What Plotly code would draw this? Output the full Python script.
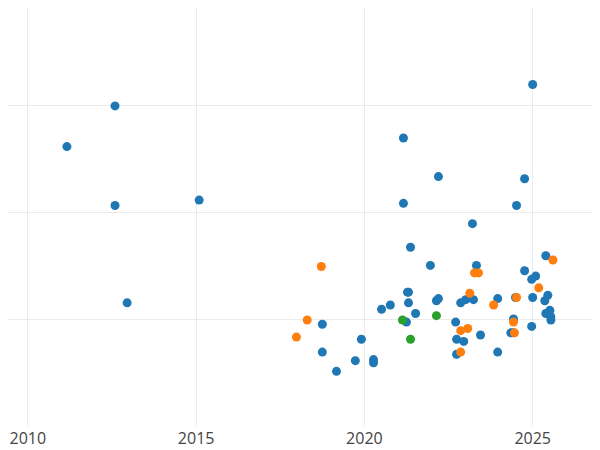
import plotly.graph_objects as go

blue_x = [2011.16, 2012.59, 2012.59, 2012.95, 2015.09, 2021.16, 2022.20, 2021.16, 2021.37, 2023.21,
          2024.76, 2024.52, 2025.00, 2018.75, 2018.75, 2019.17, 2019.73, 2020.27, 2020.27, 2019.91,
          2020.51, 2020.77, 2021.28, 2021.31, 2021.31, 2021.25, 2021.52, 2021.96, 2022.14, 2022.20,
          2022.71, 2022.74, 2022.74, 2022.86, 2022.95, 2023.01, 2023.24, 2023.33, 2023.45, 2023.96,
          2023.96, 2024.35, 2024.43, 2024.43, 2024.49, 2024.76, 2024.97, 2025.00, 2025.09, 2024.97,
          2025.39, 2025.36, 2025.45, 2025.39, 2025.51, 2025.54, 2025.54]
blue_y = [2.62, 3.00, 2.07, 1.16, 2.12, 2.70, 2.34, 2.09, 1.68, 1.90,
          2.32, 2.07, 3.20, 0.96, 0.70, 0.52, 0.62, 0.63, 0.60, 0.82,
          1.10, 1.14, 1.26, 1.26, 1.16, 0.98, 1.06, 1.51, 1.18, 1.20,
          0.98, 0.82, 0.68, 1.16, 0.80, 1.19, 1.19, 1.51, 0.86, 1.20,
          0.70, 0.88, 1.01, 0.88, 1.21, 1.46, 1.38, 1.21, 1.41, 0.94,
          1.60, 1.18, 1.23, 1.06, 1.09, 1.00, 1.03]
orange_x = [2018.72, 2018.30, 2017.98, 2023.13, 2023.27, 2023.39, 2023.07, 2022.86, 2022.86, 2023.84,
            2024.43, 2024.46, 2024.52, 2025.18, 2025.60]
orange_y = [1.50, 1.00, 0.84, 1.25, 1.44, 1.44, 0.92, 0.90, 0.70, 1.14,
            0.98, 0.88, 1.21, 1.30, 1.56]
green_x = [2021.13, 2022.14, 2021.37]
green_y = [1.00, 1.04, 0.82]

fig = go.Figure()
for xs, ys, c in [(blue_x, blue_y, "#1f77b4"), (orange_x, orange_y, "#ff7f0e"), (green_x, green_y, "#2ca02c")]:
    fig.add_trace(go.Scatter(x=xs, y=ys, mode="markers", marker=dict(color=c, size=9), showlegend=False))

fig.update_layout(
    width=600, height=450,
    margin=dict(l=0, r=8, t=0, b=31),
    plot_bgcolor="white", paper_bgcolor="white",
    font=dict(family="Open Sans", size=16, color="#444"),
)
fig.update_xaxes(range=[2009.41, 2027.0], tickvals=[2010, 2015, 2020, 2025],
                 showgrid=True, gridcolor="#ebebeb", zeroline=False)
fig.update_yaxes(range=[0, 3.915], dtick=1, showticklabels=False,
                 showgrid=True, gridcolor="#ebebeb", zeroline=False)

fig.write_html("out.html")
